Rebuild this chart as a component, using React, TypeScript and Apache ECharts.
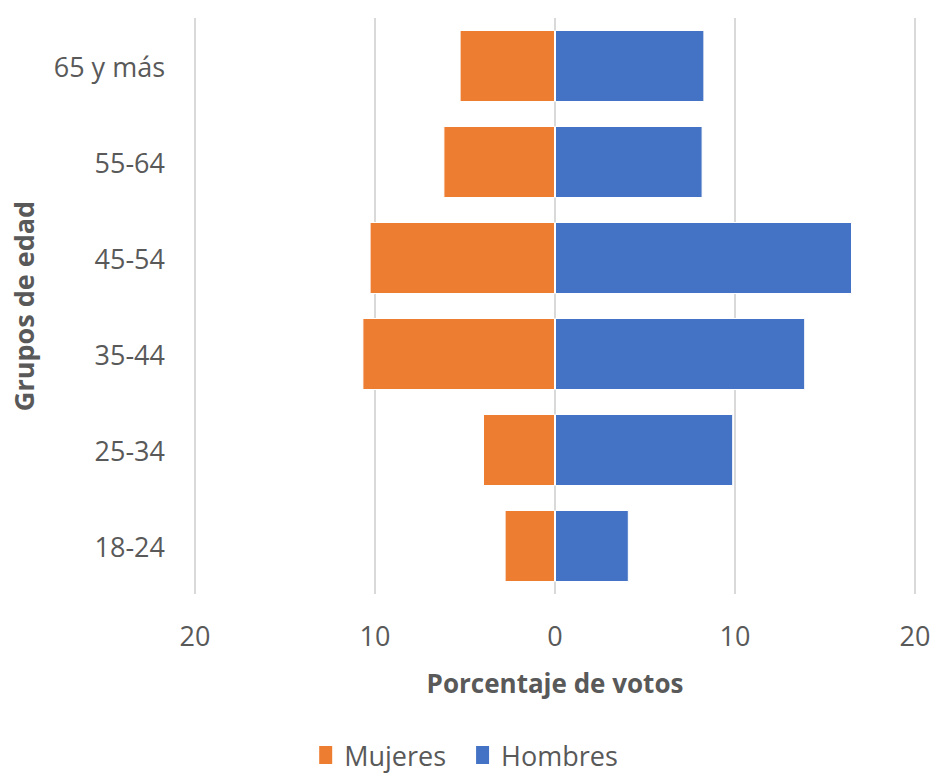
import React, { useEffect, useRef } from "react";
import * as echarts from "echarts";

const categories = ["18-24", "25-34", "35-44", "45-54", "55-64", "65 y más"];
const mujeres = [2.8, 4.0, 10.7, 10.3, 6.2, 5.3];
const hombres = [4.1, 9.9, 13.9, 16.5, 8.2, 8.3];
const seriesNames = ["Mujeres", "Hombres"];
const xAxisTitle = "Porcentaje de votos";
const yAxisTitle = "Grupos de edad";

const FONT = "'Open Sans', 'Noto Sans', sans-serif";
const TEXT = "#595959";

export default function App() {
  const ref = useRef<HTMLDivElement>(null);
  useEffect(() => {
    if (!ref.current) return;
    const chart = echarts.init(ref.current, undefined, { renderer: "svg" });
    chart.setOption({
      animation: false,
      textStyle: { fontFamily: FONT, color: TEXT },
      legend: {
        data: seriesNames,
        top: 740,
        left: "center",
        padding: 0,
        itemWidth: 15,
        itemHeight: 20,
        itemGap: 28,
        icon: "rect",
        textStyle: { fontFamily: FONT, fontSize: 27, lineHeight: 30, color: TEXT, padding: [0, 0, 0, 6] },
      },
      grid: { left: 195, right: 20, top: 18, bottom: 182, containLabel: false },
      xAxis: {
        type: "value",
        min: -20,
        max: 20,
        interval: 10,
        name: xAxisTitle,
        nameLocation: "middle",
        nameGap: 76,
        nameTextStyle: { fontFamily: FONT, fontSize: 26, fontWeight: "bold", color: TEXT },
        axisLine: { show: false },
        axisTick: { show: false },
        axisLabel: {
          margin: 28,
          fontFamily: FONT,
          fontSize: 27,
          color: TEXT,
          formatter: (v: number) => String(Math.abs(v)),
        },
        splitLine: { show: true, lineStyle: { color: "#D9D9D9", width: 2 } },
      },
      yAxis: {
        type: "category",
        data: categories,
        name: yAxisTitle,
        nameLocation: "middle",
        nameRotate: 90,
        nameGap: 158,
        nameTextStyle: { fontFamily: FONT, fontSize: 27, fontWeight: "bold", color: TEXT },
        axisLine: { show: false, onZero: false },
        axisTick: { show: false },
        axisLabel: { margin: 30, fontFamily: FONT, fontSize: 27, color: TEXT },
        splitLine: { show: false },
      },
      series: [
        {
          name: seriesNames[0],
          type: "bar",
          stack: "total",
          barCategoryGap: "25%",
          data: mujeres.map((v) => -v),
          itemStyle: { color: "#ED7D31", borderColor: "#FFFFFF", borderWidth: 1 },
        },
        {
          name: seriesNames[1],
          type: "bar",
          stack: "total",
          barCategoryGap: "25%",
          data: hombres,
          itemStyle: { color: "#4472C4", borderColor: "#FFFFFF", borderWidth: 1 },
        },
      ],
    });
    return () => chart.dispose();
  }, []);
  return (
    <div
      ref={ref}
      style={{ position: "absolute", left: 0, top: 0, width: 935, height: 776 }}
    />
  );
}
